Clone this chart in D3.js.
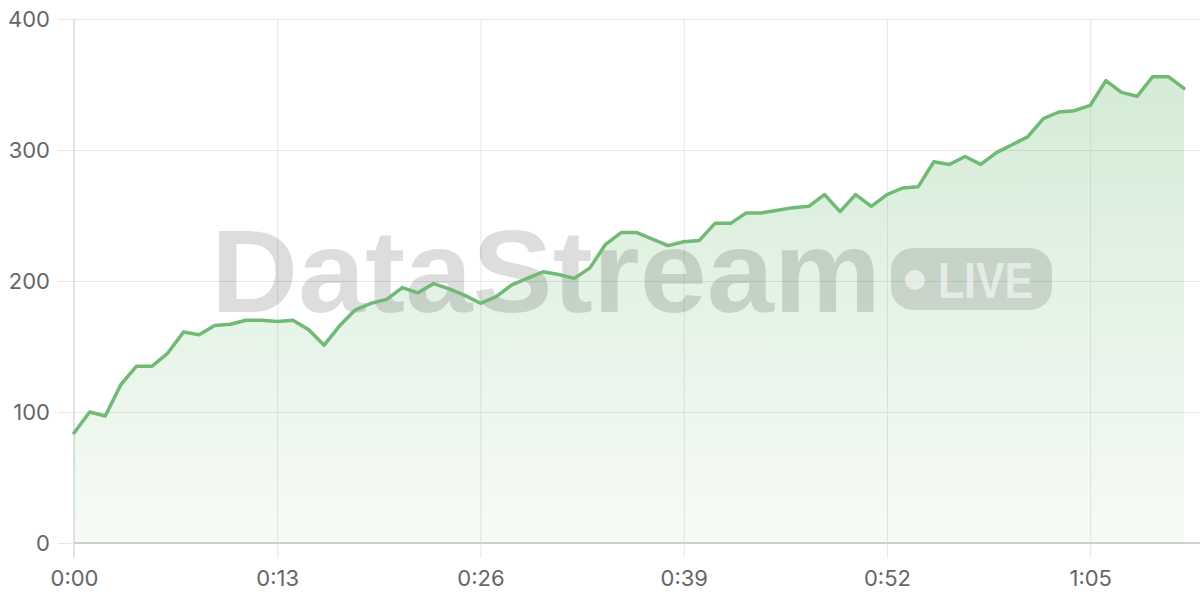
<!DOCTYPE html>
<html>
<head>
<meta charset="utf-8">
<script src="https://cdn.jsdelivr.net/npm/d3@7"></script>
<style>
  html, body { margin: 0; padding: 0; background: #fff; }
  svg { display: block; }
  .tick text { font-family: Inter, "Noto Sans", sans-serif; font-size: 22px; fill: #666; }
</style>
</head>
<body>
<svg id="chart" width="1200" height="600"></svg>
<script>
// Data: one sample per second, 0..71 s
const seconds = d3.range(0, 72);
const values = [
  84, 100, 97, 121, 135, 135, 145, 161, 159, 166,
  167, 170, 170, 169, 170, 163, 151, 166, 178, 183,
  186, 195, 191, 198, 194, 189, 183, 188, 197, 202,
  207, 205, 202, 210, 228, 237, 237, 232, 227, 230,
  231, 244, 244, 252, 252, 254, 256, 257, 266, 253,
  266, 257, 266, 271, 272, 291, 289, 295, 289, 298,
  304, 310, 324, 329, 330, 334, 353, 344, 341, 356,
  356, 347
];
const xTickValues = [0, 13, 26, 39, 52, 65];
const xTickLabels = ["0:00", "0:13", "0:26", "0:39", "0:52", "1:05"];
const yTickValues = [0, 100, 200, 300, 400];

const data = seconds.map((s, i) => ({ s, v: values[i] }));

const svg = d3.select("#chart");
const mLeft = 74, mRight = 1184, mTop = 19, mBottom = 543, fullRight = 1200;

const x = d3.scaleLinear().domain([0, 71]).range([mLeft, mRight]);
const y = d3.scaleLinear().domain([0, 400]).range([mBottom, mTop]);

// gradient
const defs = svg.append("defs");
const grad = defs.append("linearGradient")
  .attr("id", "areaGrad").attr("gradientUnits", "userSpaceOnUse")
  .attr("x1", 0).attr("x2", 0).attr("y1", mTop).attr("y2", mBottom);
grad.append("stop").attr("offset", "0%").attr("stop-color", "rgb(109,187,114)").attr("stop-opacity", 0.32);
grad.append("stop").attr("offset", "100%").attr("stop-color", "rgb(109,187,114)").attr("stop-opacity", 0.06);

// Y grid / axis
const yAxis = d3.axisLeft(y).tickValues(yTickValues).tickSize(16).tickPadding(8);
const yg = svg.append("g").attr("transform", `translate(${mLeft},0)`).call(yAxis);
yg.select(".domain").remove();
yg.selectAll(".tick line").attr("stroke", "#e6e6e6").attr("x2", fullRight - mLeft).attr("x1", -16);
yg.selectAll(".tick text").attr("dy", "0.35em").attr("x", -24);

// X grid / axis
const xAxis = d3.axisBottom(x).tickValues(xTickValues)
  .tickFormat((d, i) => xTickLabels[i]).tickSize(15).tickPadding(12);
const xg = svg.append("g").attr("transform", `translate(0,${mBottom})`).call(xAxis);
xg.select(".domain").remove();
xg.selectAll(".tick line").attr("stroke", "#e6e6e6").attr("y1", mTop - mBottom).attr("y2", 15);
xg.selectAll(".tick text").attr("dy", "0.71em");

// left axis line
svg.append("line").attr("x1", mLeft).attr("x2", mLeft).attr("y1", mTop).attr("y2", mBottom + 15)
  .attr("stroke", "#dcdcdc").attr("stroke-width", 1.5);

// area
const area = d3.area().x(d => x(d.s)).y0(y(0)).y1(d => y(d.v));
svg.append("path").datum(data).attr("d", area).attr("fill", "url(#areaGrad)");

// bottom axis line
svg.append("line").attr("x1", mLeft).attr("x2", fullRight).attr("y1", mBottom).attr("y2", mBottom)
  .attr("stroke", "#cfcfcf").attr("stroke-width", 2);

// watermark
const wm = svg.append("g").attr("pointer-events", "none");
wm.append("text").text("DataStream")
  .attr("x", 211).attr("y", 312)
  .attr("textLength", 670).attr("lengthAdjust", "spacingAndGlyphs")
  .attr("font-family", "'Liberation Sans', Arial, sans-serif")
  .attr("font-weight", 700).attr("font-size", 117)
  .attr("fill", "rgba(0,0,0,0.135)");
wm.append("rect").attr("x", 891).attr("y", 248).attr("width", 161).attr("height", 62)
  .attr("rx", 22).attr("fill", "rgba(0,0,0,0.12)");
wm.append("circle").attr("cx", 915).attr("cy", 280).attr("r", 10).attr("fill", "rgba(255,255,255,0.55)");
wm.append("text").text("LIVE")
  .attr("x", 938).attr("y", 298)
  .attr("textLength", 95).attr("lengthAdjust", "spacingAndGlyphs")
  .attr("font-family", "'Liberation Sans', Arial, sans-serif")
  .attr("font-weight", 700).attr("font-size", 50)
  .attr("fill", "rgba(255,255,255,0.55)");

// line
const line = d3.line().x(d => x(d.s)).y(d => y(d.v));
svg.append("path").datum(data).attr("d", line)
  .attr("fill", "none").attr("stroke", "rgb(112,186,117)").attr("stroke-width", 3.5)
  .attr("stroke-linejoin", "round").attr("stroke-linecap", "round");
</script>
</body>
</html>
